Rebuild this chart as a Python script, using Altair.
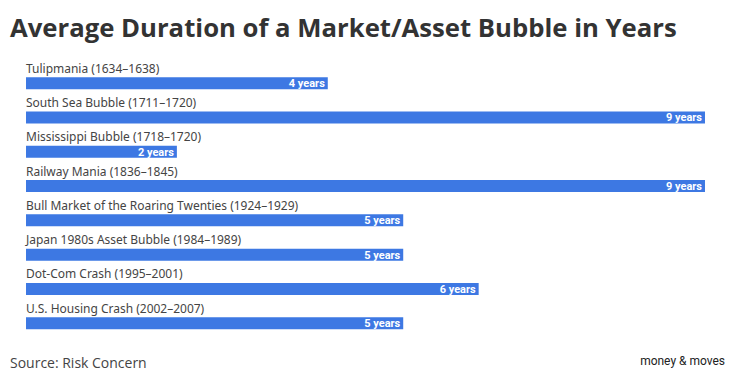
import altair as alt
import pandas as pd

names = [
    "Tulipmania (1634–1638)",
    "South Sea Bubble (1711–1720)",
    "Mississippi Bubble (1718–1720)",
    "Railway Mania (1836–1845)",
    "Bull Market of the Roaring Twenties (1924–1929)",
    "Japan 1980s Asset Bubble (1984–1989)",
    "Dot-Com Crash (1995–2001)",
    "U.S. Housing Crash (2002–2007)",
]
years = [4, 9, 2, 9, 5, 5, 6, 5]
value_labels = [f"{v} years" for v in years]

title_text = "Average Duration of a Market/Asset Bubble in Years"
source_text = "Source: Risk Concern"
logo_text = "money & moves"

df = pd.DataFrame({"name": names, "years": years, "vlabel": value_labels})

W = 679
H = 274.4

y_enc = alt.Y("name:N", sort=names, axis=None,
              scale=alt.Scale(paddingInner=0, paddingOuter=0))
x_scale = alt.Scale(domain=[0, 9], nice=False, zero=True)

base = alt.Chart(df)

bars = base.mark_bar(size=12, color="#3d78e3", cornerRadius=0).encode(
    x=alt.X("years:Q", scale=x_scale, axis=None),
    y=y_enc,
)

cat_labels = base.mark_text(
    align="left", baseline="middle", dy=-14.5, fontSize=12,
    font="Noto Sans", color="#444444"
).encode(x=alt.value(0), y=y_enc, text="name:N")

val_labels = base.mark_text(
    align="right", baseline="middle", dx=-3, dy=1, fontSize=11,
    font="Roboto", fontWeight="bold", color="white"
).encode(x=alt.X("years:Q", scale=x_scale), y=y_enc, text="vlabel:N")

title = alt.Chart(pd.DataFrame({"t": [title_text]})).mark_text(
    align="left", baseline="alphabetic", fontSize=25.7, font="Open Sans",
    fontWeight=700, color="#333333"
).encode(x=alt.value(-16), y=alt.value(-29), text="t:N")

source = alt.Chart(pd.DataFrame({"t": [source_text]})).mark_text(
    align="left", baseline="middle", fontSize=14, font="Open Sans",
    color="#444444"
).encode(x=alt.value(-16), y=alt.value(298), text="t:N")

logo = alt.Chart(pd.DataFrame({"t": [logo_text]})).mark_text(
    align="right", baseline="middle", fontSize=12, font="Roboto",
    fontWeight=400, color="#222222"
).encode(x=alt.value(699), y=alt.value(295), text="t:N")

chart = alt.layer(bars, cat_labels, val_labels, title, source, logo).properties(
    width=W, height=H,
    autosize=alt.AutoSizeParams(type="none"),
    padding={"left": 18, "top": 58, "right": 39, "bottom": 40},
).configure(background="white").configure_view(stroke=None)

chart.save("out.html", embed_options={"renderer": "svg", "actions": False})
